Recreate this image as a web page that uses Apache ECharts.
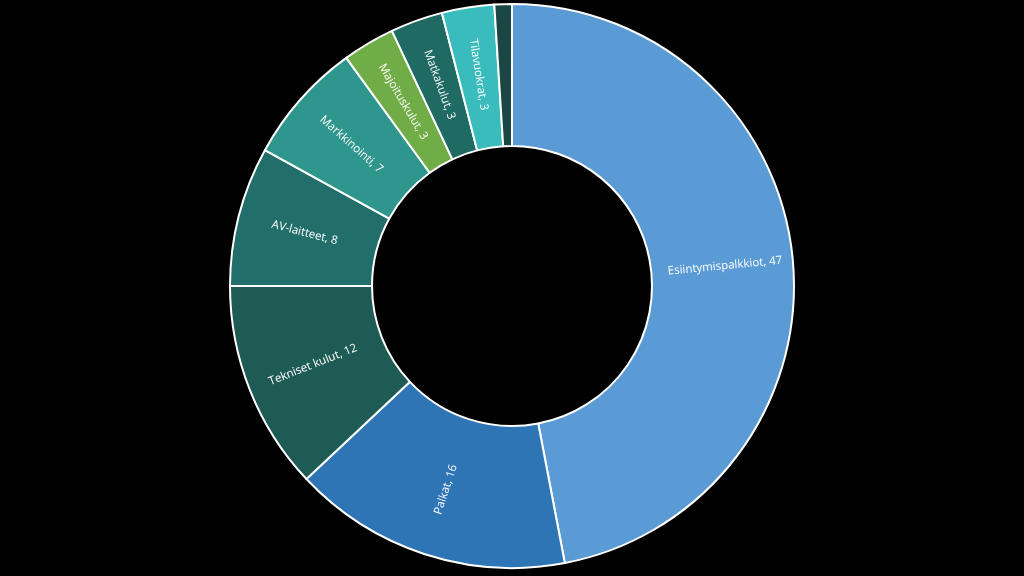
<!DOCTYPE html>
<html>
<head>
<meta charset="utf-8">
<script src="https://cdn.jsdelivr.net/npm/echarts@6/dist/echarts.min.js"></script>
<style>
    html, body { margin: 0; padding: 0; background: #000; }
    #main { width: 1024px; height: 576px; }
</style>
</head>
<body>
<div id="main"></div>
<script>
// kulut
var names = ['Esiintymispalkkiot', 'Palkat', 'Tekniset kulut', 'AV-laitteet', 'Markkinointi',
    'Majoituskulut', 'Matkakulut', 'Tilavuokrat', ''];
var values = [47, 16, 12, 8, 7, 3, 3, 3, 1];
var colors = ['#5b9bd5', '#2e75b6', '#1f5b55', '#226e6a', '#2e968c',
    '#70ad47', '#1f6a63', '#3bbcbc', '#1a4744'];

var chart = echarts.init(document.getElementById('main'));

var pieData = [];
for (var i = 0; i < names.length; i++) {
    pieData.push({
        name: names[i],
        value: values[i],
        itemStyle: { color: colors[i] },
        label: { show: names[i] !== '' }
    });
}

var option = {
    backgroundColor: '#000000',
    animation: false,
    series: [
        {
            type: 'pie',
            center: [512, 286],
            radius: [140, 282],
            startAngle: 90,
            clockwise: true,
            itemStyle: {
                borderColor: '#ffffff',
                borderWidth: 2
            },
            label: {
                position: 'inside',
                rotate: 'radial',
                color: '#ffffff',
                fontFamily: 'Open Sans',
                fontSize: 11.5,
                formatter: '{b}, {c}'
            },
            labelLine: { show: false },
            data: pieData
        }
    ]
};

chart.setOption(option);
</script>
</body>
</html>
